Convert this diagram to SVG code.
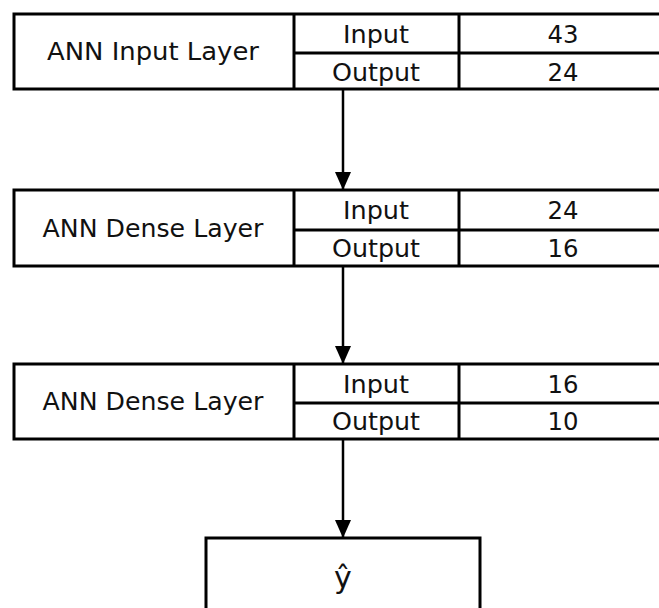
<svg xmlns="http://www.w3.org/2000/svg" width="659" height="608" viewBox="0 0 659 608">
<style>
.box{fill:#fff;stroke:#000;stroke-width:3}
.ln{stroke:#000;stroke-width:3;fill:none}
.t{font-family:"DejaVu Sans","Open Sans",sans-serif;font-size:25px;fill:#111;text-anchor:middle}
.conn{stroke:#000;stroke-width:2.5;fill:none}
</style>
<defs>
<marker id="ah" markerUnits="userSpaceOnUse" markerWidth="18" markerHeight="20" refX="17" refY="8" orient="auto" viewBox="0 0 18 16">
<path d="M0,0 L18,8 L0,16 Z" fill="#000"/>
</marker>
</defs>
<g id="layer1">
<rect class="box" x="14" y="14" width="660" height="75"/>
<line class="ln" x1="294" y1="14" x2="294" y2="89"/>
<line class="ln" x1="459" y1="14" x2="459" y2="89"/>
<line class="ln" x1="294" y1="53" x2="674" y2="53"/>
<text class="t" x="153" y="60" textLength="212" lengthAdjust="spacingAndGlyphs">ANN Input Layer</text>
<text class="t" x="376" y="43" textLength="66" lengthAdjust="spacingAndGlyphs">Input</text>
<text class="t" x="376" y="81" textLength="88" lengthAdjust="spacingAndGlyphs">Output</text>
<text class="t" x="563" y="43" textLength="31" lengthAdjust="spacingAndGlyphs">43</text>
<text class="t" x="563" y="81" textLength="31" lengthAdjust="spacingAndGlyphs">24</text>
</g>
<g id="layer2">
<rect class="box" x="14" y="190" width="660" height="76"/>
<line class="ln" x1="294" y1="190" x2="294" y2="266"/>
<line class="ln" x1="459" y1="190" x2="459" y2="266"/>
<line class="ln" x1="294" y1="230" x2="674" y2="230"/>
<text class="t" x="153" y="237" textLength="221" lengthAdjust="spacingAndGlyphs">ANN Dense Layer</text>
<text class="t" x="376" y="219" textLength="66" lengthAdjust="spacingAndGlyphs">Input</text>
<text class="t" x="376" y="257" textLength="88" lengthAdjust="spacingAndGlyphs">Output</text>
<text class="t" x="563" y="219" textLength="31" lengthAdjust="spacingAndGlyphs">24</text>
<text class="t" x="563" y="257" textLength="31" lengthAdjust="spacingAndGlyphs">16</text>
</g>
<g id="layer3">
<rect class="box" x="14" y="364" width="660" height="75"/>
<line class="ln" x1="294" y1="364" x2="294" y2="439"/>
<line class="ln" x1="459" y1="364" x2="459" y2="439"/>
<line class="ln" x1="294" y1="403" x2="674" y2="403"/>
<text class="t" x="153" y="410" textLength="221" lengthAdjust="spacingAndGlyphs">ANN Dense Layer</text>
<text class="t" x="376" y="393" textLength="66" lengthAdjust="spacingAndGlyphs">Input</text>
<text class="t" x="376" y="430" textLength="88" lengthAdjust="spacingAndGlyphs">Output</text>
<text class="t" x="563" y="393" textLength="31" lengthAdjust="spacingAndGlyphs">16</text>
<text class="t" x="563" y="430" textLength="31" lengthAdjust="spacingAndGlyphs">10</text>
</g>
<g id="output">
<rect class="box" x="206" y="538" width="274" height="90"/>
<text class="t" x="343" y="588" style="font-size:30px">ŷ</text>
</g>
<g id="connectors">
<line class="conn" x1="343" y1="89" x2="343" y2="189" marker-end="url(#ah)"/>
<line class="conn" x1="343" y1="266" x2="343" y2="363" marker-end="url(#ah)"/>
<line class="conn" x1="343" y1="439" x2="343" y2="537" marker-end="url(#ah)"/>
</g>
</svg>
